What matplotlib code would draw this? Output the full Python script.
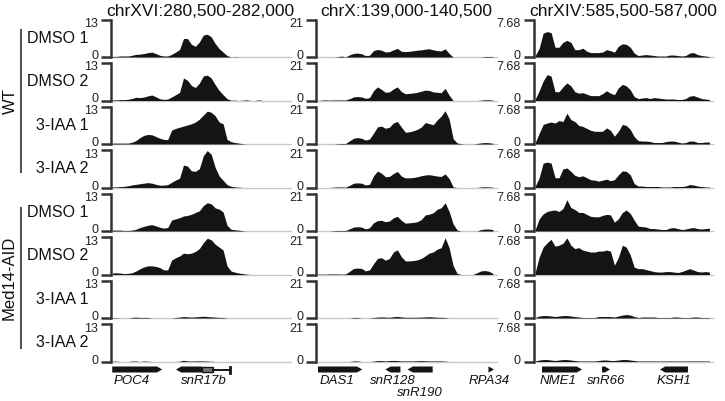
import numpy as np
import matplotlib
matplotlib.use('Agg')
import matplotlib.pyplot as plt
import matplotlib.transforms as mtransforms
from matplotlib.patches import Polygon, Rectangle

plt.rcParams['font.family'] = ['Liberation Sans', 'DejaVu Sans']

W, H = 725, 401

# ---------------- data ----------------
regions = ["chrXVI:280,500-282,000", "chrX:139,000-140,500", "chrXIV:585,500-587,000"]
starts = [280500, 139000, 585500]
ends = [282000, 140500, 587000]
ymaxes = [13, 21, 7.68]
ymax_labels = ["13", "21", "7.68"]
row_labels = ["DMSO 1", "DMSO 2", "3-IAA 1", "3-IAA 2", "DMSO 1", "DMSO 2", "3-IAA 1", "3-IAA 2"]
groups = ["WT", "Med14-AID"]

# panel 1: chrXVI (8 tracks, 45 bins each)
p1_wt_dmso1 = [0.2,0.2,0.35,0.35,0.35,0.6,0.9,1.0,1.2,1.5, 1.7,1.2,0.6,0.35,0.35,0.9,1.7,2.6,6.4,6.4,
               4.4,3.7,5.2,7.6,7.9,7.0,4.7,2.9,1.7,0.5, 0,0.1,0,0,0, 0,0,0,0,0, 0,0,0,0,0]
p1_wt_dmso2 = [0.2,0.2,0.3,0.3,0.4,0.7,1.1,1.0,1.2,1.6, 1.9,1.3,0.6,0.4,0.5,1.2,2.0,2.8,7.8,7.0,
               5.2,4.5,6.0,8.5,8.8,7.8,5.5,3.5,2.0,0.6, 0.1,0.1,0,0.1,0.2, 0,0,0.2,0,0, 0,0,0,0,0]
p1_wt_iaa1 = [0.3,0.3,0.3,0.3,0.3,0.6,1.2,2.2,3.0,3.3, 3.2,2.6,2.0,1.6,1.5,4.8,5.4,5.8,6.2,6.6,
              7.0,7.6,8.6,10.0,11.4,11.0,9.8,7.6,7.0,1.6, 0.8,0.5,0.3,0.1,0, 0,0,0,0,0, 0,0,0,0,0]
p1_wt_iaa2 = [0.2,0.2,0.3,0.4,0.6,0.9,1.1,1.3,1.5,1.7, 1.5,1.1,0.8,0.8,1.0,1.8,2.6,3.2,7.8,7.4,
              5.8,5.6,6.5,11.0,12.8,11.5,7.0,4.0,2.5,1.0, 0.4,0.2,0.1,0,0, 0,0,0,0,0, 0,0,0,0,0]
p1_med_dmso1 = [0.3,0.3,0.3,0.2,0.2,0.3,0.6,1.2,1.6,2.0, 2.2,1.8,1.3,1.0,1.2,3.8,4.2,4.6,5.2,5.4,
                5.8,6.4,7.0,8.8,9.8,9.4,8.0,7.6,6.6,2.0, 0.6,0.4,0.3,0.1,0, 0,0,0,0,0, 0,0,0,0,0]
p1_med_dmso2 = [0.5,0.6,0.5,0.3,0.4,0.6,1.2,2.0,2.6,3.0, 3.0,2.8,2.4,1.6,1.6,5.0,5.8,6.4,7.4,7.2,
                7.4,8.0,9.0,11.0,12.6,12.0,10.5,9.5,8.5,3.0, 1.2,0.8,0.5,0.3,0.1, 0,0,0,0,0, 0,0,0,0,0]
p1_med_iaa1 = [0.1,0.1,0,0,0,0.2,0.3,0.2,0.2,0.2, 0,0,0,0,0,0,0.2,0.3,0.5,0.4,
               0.3,0.4,0.5,0.6,0.5,0.4,0.3,0.2,0.2,0, 0,0,0,0,0, 0,0,0,0,0, 0,0,0,0,0]
p1_med_iaa2 = [0.1,0.1,0,0,0,0.15,0.15,0,0.15,0.1, 0,0,0,0,0,0,0,0.1,0.4,0.2,
               0.15,0.2,0.2,0.2,0.15,0.1,0,0,0,0, 0,0,0,0,0, 0,0,0,0,0, 0,0,0,0,0]

# panel 2: chrX
p2_wt_dmso1 = [0,0,0,0,0,0.2,0.5,0.1,1.2,2.0, 2.2,1.8,0.8,1.0,3.6,4.2,3.8,2.8,3.0,4.0,
               4.8,3.2,3.0,3.2,3.5,3.8,4.0,4.4,4.6,4.0, 3.6,3.4,4.6,2.0,0, 0,0,0,0,0, 0,0,0.3,0.3,0.3]
p2_wt_dmso2 = [0,0.2,0.3,0.2,0.3,0.3,0.3,0.3,1.0,2.0, 2.2,2.0,1.2,1.6,5.5,7.6,6.2,4.6,4.8,6.5,
               7.6,5.0,3.8,4.0,4.2,4.6,5.2,5.8,5.6,4.8, 4.6,4.4,6.8,3.0,0, 0,0,0,0,0, 0,0.2,0.4,0.4,0.2]
p2_wt_iaa1 = [0,0,0,0,0,0.2,0.3,0.3,1.8,3.2, 3.6,3.2,2.2,2.8,6.0,9.6,10.0,8.8,9.4,11.8,
              12.6,9.5,6.6,6.8,7.4,8.2,9.5,12.0,11.4,10.8, 13.5,15.6,18.6,14.0,3.0, 0.6,0.2,0,0,0, 0.3,0.6,0.8,0.7,0.4]
p2_wt_iaa2 = [0,0,0,0,0.2,0.3,0.3,0.2,1.2,2.4, 2.6,2.4,1.4,1.8,6.5,9.2,8.0,6.0,6.2,7.8,
              9.0,6.4,5.4,5.4,5.6,6.0,6.6,7.0,7.2,6.8, 6.4,6.2,7.6,5.0,0.3, 0,0,0,0,0, 0,0.3,0.4,0.3,0.2]
p2_med_dmso1 = [0,0,0,0,0.2,0.3,0.3,0.3,1.2,2.2, 2.4,2.2,1.2,1.8,4.6,5.8,6.0,5.2,5.6,7.4,
                8.2,6.0,4.4,4.6,4.8,5.2,6.4,9.0,9.4,10.2, 12.2,13.0,15.8,11.0,4.0, 0.6,0,0,0,0, 0,0.8,1.1,1.1,0.8]
p2_med_dmso2 = [0.2,0.2,0.2,0.3,0.3,0.3,0.2,0.3,1.8,3.4, 3.6,3.4,2.0,2.6,6.0,9.0,9.4,8.0,9.0,12.6,
                13.8,10.0,7.6,7.6,7.8,8.2,9.0,10.4,12.0,12.6, 14.2,15.0,20.6,15.0,5.0, 0.6,0,0,0,0, 1.0,2.0,2.2,1.8,0.6]
p2_med_iaa1 = [0,0,0,0,0,0,0,0,0,0.3, 0.3,0,0,0,0.3,0.5,0.6,0.5,0.4,0.7,
               0.9,0.6,0.4,0.4,0.4,0.4,0.5,0.6,0.7,0.6, 0.4,0.4,0.3,0,0, 0,0,0,0,0, 0,0,0,0,0]
p2_med_iaa2 = [0,0,0,0,0,0,0,0,0,0.3, 0.3,0,0,0,0.2,0.5,0.5,0.3,0.5,0.6,
               0.5,0.3,0.3,0.3,0.3,0.4,0.5,0.4,0.3,0.3, 0.3,0.3,0.2,0,0, 0,0,0,0,0, 0,0,0,0,0]

# panel 3: chrXIV
p3_wt_dmso1 = [0.3,1.8,4.9,5.2,5.0,2.0,2.0,3.0,3.4,3.0, 1.5,1.5,1.8,1.2,0.9,0.9,0.9,1.0,1.5,1.3,
               1.0,2.2,2.7,2.6,2.0,0.8,0.3,0.4,0.5,0.4, 0.3,0.2,0.2,0.2,0.4, 0.4,0.3,0.2,0.3,0.8, 0.9,0.5,0.3,0.2,0.1]
p3_wt_dmso2 = [0.3,2.0,4.0,5.3,5.0,1.8,1.8,2.8,3.6,3.0, 1.8,1.5,1.6,1.3,1.0,1.0,1.0,1.4,2.0,1.5,
               1.2,2.6,3.3,3.0,2.2,0.8,0.4,0.5,0.6,0.4, 0.6,0.5,0.4,0.3,0.3, 0.3,0.2,0.2,0.4,0.9, 1.0,0.7,0.4,0.3,0.2]
p3_wt_iaa1 = [0.3,2.2,4.0,4.3,4.5,4.3,4.8,4.6,6.3,5.0, 4.6,3.8,3.6,3.2,2.8,2.6,2.6,2.6,3.3,2.8,
              1.6,2.6,4.0,3.8,3.0,1.5,0.7,0.6,0.6,0.5, 0.3,0.3,0.3,0.5,0.6, 0.6,0.4,0.2,0.3,0.6, 0.6,0.3,0.3,0.4,0.4]
p3_wt_iaa2 = [0.3,2.0,5.0,5.2,5.0,2.0,2.0,3.8,4.0,3.3, 2.5,2.2,2.4,2.0,1.6,1.5,1.3,1.5,1.7,1.4,
              1.6,2.6,3.4,3.3,2.6,0.8,0.3,0.3,0.2,0.2, 0.2,0.2,0.1,0.1,0.1, 0.2,0.2,0.2,0.3,0.6, 0.5,0.3,0.2,0.1,0.1]
p3_med_dmso1 = [0.3,2.5,3.5,4.0,4.2,4.3,4.0,4.6,6.4,4.8, 4.4,3.8,3.8,3.4,3.0,2.9,2.9,3.2,3.4,3.3,
                1.8,2.5,3.8,4.3,3.6,2.2,1.0,0.9,0.8,0.5, 0.5,0.4,0.3,0.3,0.6, 0.7,0.5,0.3,0.4,0.6, 0.7,0.5,0.4,0.5,0.6]
p3_med_dmso2 = [0.5,3.6,5.6,6.5,7.2,5.8,6.0,6.4,7.5,6.0, 5.3,5.5,5.0,4.8,4.6,4.6,4.8,4.8,5.0,4.8,
                1.9,3.5,6.0,5.6,4.0,1.5,1.2,1.2,1.0,0.8, 0.6,0.5,0.5,0.6,0.6, 0.5,0.4,0.6,0.9,1.2, 0.9,0.6,0.5,0.6,0.5]
p3_med_iaa1 = [0.1,0.4,0.5,0.5,0.4,0.3,0.4,0.5,0.5,0.4, 0.3,0.2,0.1,0.1,0.1,0.1,0.3,0.3,0.3,0.3,
               0.2,0.4,0.6,0.7,0.6,0.3,0.1,0.2,0.2,0.2, 0.2,0.1,0.1,0.1,0.1, 0.2,0.2,0.1,0.1,0.1, 0.2,0.2,0.1,0.1,0.1]
p3_med_iaa2 = [0.1,0.3,0.4,0.4,0.3,0.2,0.3,0.4,0.4,0.3, 0.2,0.1,0.1,0.1,0.1,0.1,0.2,0.3,0.3,0.2,
               0.2,0.3,0.4,0.4,0.3,0.2,0.1,0.1,0.1,0.1, 0.1,0.1,0.1,0.1,0.1, 0.1,0.1,0.1,0.1,0.1, 0.1,0.1,0.1,0.1,0.1]

signals = [
    [p1_wt_dmso1, p1_wt_dmso2, p1_wt_iaa1, p1_wt_iaa2, p1_med_dmso1, p1_med_dmso2, p1_med_iaa1, p1_med_iaa2],
    [p2_wt_dmso1, p2_wt_dmso2, p2_wt_iaa1, p2_wt_iaa2, p2_med_dmso1, p2_med_dmso2, p2_med_iaa1, p2_med_iaa2],
    [p3_wt_dmso1, p3_wt_dmso2, p3_wt_iaa1, p3_wt_iaa2, p3_med_dmso1, p3_med_dmso2, p3_med_iaa1, p3_med_iaa2],
]

# gene annotations: (name, start, end, strand)
genes = [
    [("POC4", 280500, 280930, "+"), ("snR17b", 281049, 281273, "-")],
    [("DAS1", 139002, 139381, "+"), ("snR128", 139579, 139708, "-"),
     ("snR190", 139769, 139984, "-"), ("RPA34", 140462, 140509, "+")],
    [("NME1", 585558, 585903, "+"), ("snR66", 586075, 586144, "+"), ("KSH1", 586574, 586815, "-")],
]
snr17b_box = (281273, 281368)
snr17b_line = (281368, 281514)
gene_label_x = {"POC4": 280670, "snR17b": 281290, "RPA34": 140470, "DAS1": 139165, "NME1": 585695}
second_line_labels = ["snR190"]

# ---------------- layout ----------------
fig = plt.figure(figsize=(W / 100, H / 100), dpi=100)
panel_left = [110.5, 316, 533.5]
panel_width = [180, 181, 180]
base0, step, trackh = 57, 43.5, 37.5
dark = '#333333'
fill_c = '#141414'


def px_axes(l, t, w, h):
    return fig.add_axes([l / W, 1 - (t + h) / H, w / W, h / H])


up1 = mtransforms.ScaledTranslation(0, 1.0 / 100, fig.dpi_scale_trans)
up2 = mtransforms.ScaledTranslation(0, 1.5 / 100, fig.dpi_scale_trans)

for p in range(3):
    s, e = starts[p], ends[p]
    xs = np.linspace(s, e, 45)
    for r in range(8):
        b = base0 + step * r
        ax = px_axes(panel_left[p], b - trackh, panel_width[p], trackh)
        ax.patch.set_visible(False)
        ax.axhline(0, color='#c8c8c8', lw=1.0, zorder=1, clip_on=False)
        ax.fill_between(xs, 0, signals[p][r], color=fill_c, lw=0, zorder=2)
        ax.set_xlim(s - 15, e + 35)
        ax.set_ylim(0, ymaxes[p])
        for sp in ['top', 'right', 'bottom']:
            ax.spines[sp].set_visible(False)
        ax.spines['left'].set_color(dark)
        ax.spines['left'].set_linewidth(1.8)
        ax.set_xticks([])
        ax.set_yticks([0, ymaxes[p]])
        ax.set_yticklabels(['0', ymax_labels[p]])
        ax.tick_params(axis='y', direction='out', length=7, width=1.8, color=dark,
                       pad=2, labelsize=9, labelcolor='#222222')
        tl = ax.get_yticklabels()
        tl[0].set_va('center')
        tl[0].set_transform(tl[0].get_transform() + up1)
        tl[1].set_va('top')
        tl[1].set_transform(tl[1].get_transform() + up2)

    # title
    fig.text((panel_left[p] + panel_width[p] / 2) / W, 1 - 15.5 / H, regions[p],
             ha='center', va='baseline', fontsize=12.5, color='#111111')

    # gene track
    gax = px_axes(panel_left[p], 360, panel_width[p], 40)
    gax.set_xlim(s - 15, e + 35)
    gax.set_ylim(40, 0)
    gax.axis('off')
    yc, hh, head = 9.5, 3.0, 45
    for name, gs, ge, strand in genes[p]:
        if strand == '+':
            pts = [(gs, yc - hh), (ge - head, yc - hh), (ge, yc), (ge - head, yc + hh), (gs, yc + hh)]
        else:
            pts = [(ge, yc - hh), (gs + head, yc - hh), (gs, yc), (gs + head, yc + hh), (ge, yc + hh)]
        gax.add_patch(Polygon(pts, closed=True, color=fill_c, lw=0))
        if name == "snR17b":
            bx0, bx1 = snr17b_box
            gax.add_patch(Rectangle((bx0, yc - 2.5), bx1 - bx0, 5.0, facecolor='#777777',
                                    edgecolor=fill_c, lw=1.0))
            lx0, lx1 = snr17b_line
            gax.plot([lx0, lx1], [yc, yc], color=fill_c, lw=1.4)
            gax.plot([lx1, lx1], [yc - 3, yc + 3], color=fill_c, lw=2.0)
        lx = gene_label_x.get(name, (gs + ge) / 2)
        ly = 32.5 if name in second_line_labels else 21.5
        gax.text(lx, ly, name, ha='center', va='center', fontsize=9.5,
                 style='italic', color='#111111')

# row labels
for r in range(8):
    yc = base0 + step * r - trackh / 2
    fig.text(88 / W, 1 - yc / H, row_labels[r], ha='right', va='center',
             fontsize=11.5, color='#111111')

# group bars and labels
lax = fig.add_axes([0, 0, 1, 1])
lax.set_xlim(0, W)
lax.set_ylim(H, 0)
lax.axis('off')
lax.plot([21, 21], [30, 172], color='#555555', lw=1.5)
lax.plot([21, 21], [208, 348], color='#555555', lw=1.5)
lax.text(10.5, 101, groups[0], rotation=90, ha='center', va='center', fontsize=12, color='#111111')
lax.text(9.5, 278, groups[1], rotation=90, ha='center', va='center', fontsize=12, color='#111111')

fig.savefig('out.png', dpi=100, facecolor='white')
